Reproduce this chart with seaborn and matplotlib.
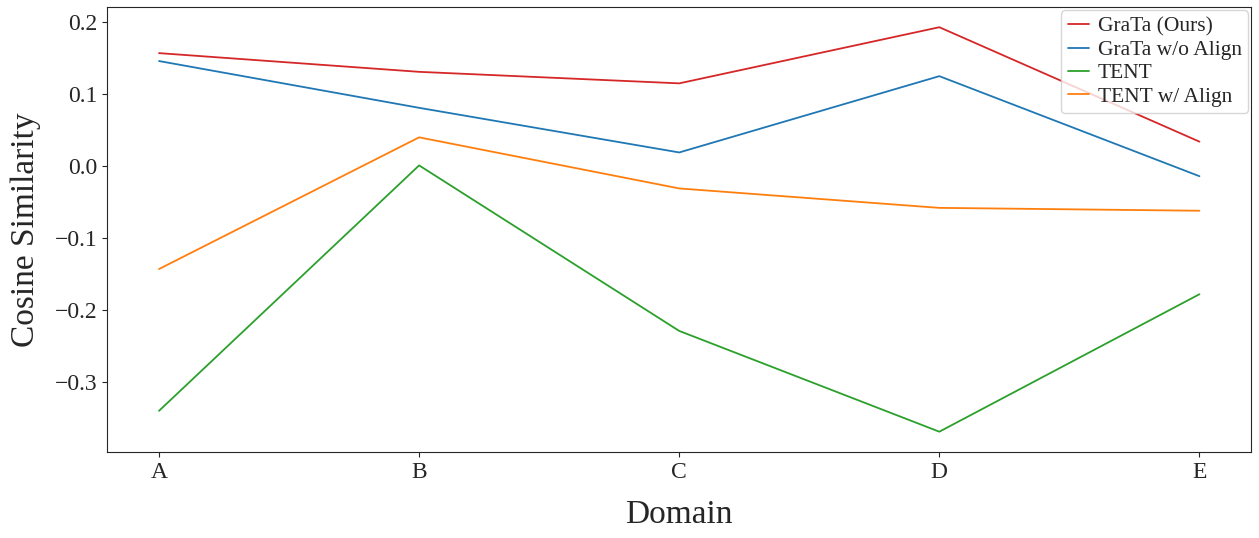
import pandas as pd
import matplotlib.pyplot as plt
import seaborn as sns

domains = ["A", "B", "C", "D", "E"]
grata = [0.157, 0.131, 0.115, 0.193, 0.034]
grata_no_align = [0.146, 0.081, 0.019, 0.125, -0.014]
tent = [-0.340, 0.001, -0.229, -0.369, -0.178]
tent_align = [-0.143, 0.040, -0.031, -0.058, -0.062]

series = {
    "GraTa (Ours)": grata,
    "GraTa w/o Align": grata_no_align,
    "TENT": tent,
    "TENT w/ Align": tent_align,
}
colors = ["#d62728", "#1f77b4", "#2ca02c", "#ff7f0e"]

rows = []
for name, vals in series.items():
    for d, v in zip(domains, vals):
        rows.append({"Domain": d, "Cosine Similarity": v, "Method": name})
df = pd.DataFrame(rows)

sns.set_style("ticks")
plt.rcParams["font.family"] = ["Liberation Serif", "DejaVu Serif"]

fig, ax = plt.subplots(figsize=(12.59, 5.38), dpi=100)
sns.lineplot(data=df, x="Domain", y="Cosine Similarity", hue="Method",
             palette=colors, linewidth=1.3, ax=ax, sort=False)

ax.set_xlabel("Domain", fontsize=24, labelpad=12)
ax.set_ylabel("Cosine Similarity", fontsize=24, labelpad=10)
ax.tick_params(labelsize=17)
ax.set_yticks([-0.3, -0.2, -0.1, 0.0, 0.1, 0.2])
ax.set_yticklabels(["\u22120.3", "\u22120.2", "\u22120.1", "0.0", "0.1", "0.2"])
ax.legend(title=None, loc="upper right", fontsize=15.5, frameon=True,
          borderaxespad=0.15, handlelength=1.0, handletextpad=0.4,
          labelspacing=0.15, borderpad=0.3)

plt.subplots_adjust(left=0.085, right=0.994, top=0.987, bottom=0.16)
plt.savefig("out.png")
